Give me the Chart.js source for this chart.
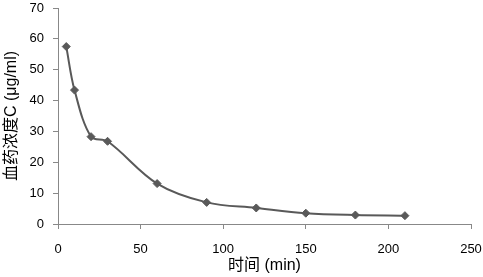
<!DOCTYPE html>
<html>
<head>
<meta charset="utf-8">
<script src="https://cdn.jsdelivr.net/npm/chart.js@4"></script>
<style>
html,body{margin:0;padding:0;background:#fff;}
#wrap{width:483px;height:277px;}
</style>
</head>
<body>
<div id="wrap"><canvas id="c" width="483" height="277"></canvas></div>
<script>
const timeMin = [5, 10, 20, 30, 60, 90, 120, 150, 180, 210];
const concentration = [57.5, 43.4, 28.3, 26.8, 13.1, 7.0, 5.2, 3.5, 2.9, 2.7];
const xTitle = '时间 (min)';
const yTitle = '血药浓度C (μg/ml)';

const FONT = "'Liberation Sans', Arial, 'Noto Sans CJK SC', sans-serif";
const points = timeMin.map((t, i) => ({x: t, y: concentration[i]}));

new Chart(document.getElementById('c'), {
  type: 'line',
  data: {
    datasets: [{
      data: points,
      borderColor: '#595959',
      backgroundColor: '#595959',
      borderWidth: 2,
      tension: 0.35,
      pointStyle: 'rectRot',
      pointRadius: 4,
      pointBorderWidth: 1,
      pointBorderColor: '#595959',
      pointBackgroundColor: '#595959',
      fill: false
    }]
  },
  options: {
    responsive: false,
    animation: false,
    events: [],
    layout: {padding: {left: 0, right: 0, top: 0, bottom: 0}},
    plugins: {legend: {display: false}, tooltip: {enabled: false}},
    scales: {
      x: {
        type: 'linear',
        min: 0, max: 250,
        afterFit: s => { s.height = 53; s.paddingRight = 12; s.paddingLeft = 0; },
        ticks: {stepSize: 50, color: '#000', font: {family: FONT, size: 13}, padding: 13, maxRotation: 0},
        grid: {drawOnChartArea: false, drawTicks: true, tickLength: 5, color: '#888'},
        border: {color: '#888', width: 1},
        title: {display: true, text: xTitle, color: '#000', font: {family: FONT, size: 16}, padding: {top: 0, bottom: 2}}
      },
      y: {
        min: 0, max: 70,
        afterFit: s => { s.width = 58; s.paddingTop = 8; s.paddingBottom = 0; },
        ticks: {stepSize: 10, color: '#000', font: {family: FONT, size: 13}, padding: 9},
        grid: {drawOnChartArea: false, drawTicks: true, tickLength: 5, color: '#888'},
        border: {color: '#888', width: 1},
        title: {display: true, text: yTitle, color: '#000', font: {family: FONT, size: 16}, padding: {top: 2, bottom: 0}}
      }
    }
  }
});
</script>
</body>
</html>
